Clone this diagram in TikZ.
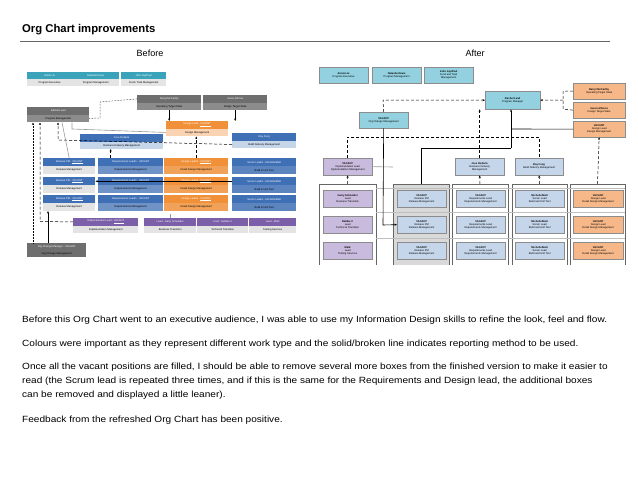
\documentclass[tikz,border=0pt]{standalone}
\usepackage{fontspec}
\setmainfont{Liberation Sans}
\newfontfamily\bodyf[FakeStretch=1.12]{Liberation Sans}
\usetikzlibrary{arrows.meta}
\definecolor{teal}{HTML}{3AA3BA}
\definecolor{lteal}{HTML}{93D1E0}
\definecolor{dgray}{HTML}{6E6E6E}
\definecolor{mgray}{HTML}{8C8C8C}
\definecolor{lgray}{HTML}{E4E4E4}
\definecolor{orng}{HTML}{F0913A}
\definecolor{lorng}{HTML}{FAD3B3}
\definecolor{rorng}{HTML}{F6B889}
\definecolor{blu}{HTML}{3F6FB5}
\definecolor{lblu}{HTML}{C5D5EA}
\definecolor{purp}{HTML}{7B5FA8}
\definecolor{lpurp}{HTML}{C9BBDD}
\tikzset{
 tf/.style={font=\fontsize{2.6}{3}\selectfont},
 hb/.style={tf,anchor=north west,inner sep=0pt,align=center},
 rb/.style={tf,anchor=north west,inner sep=0pt,align=center,draw=black!45,line width=0.3pt},
 frame/.style={draw=black!60,line width=0.4pt},
 dl/.style={densely dashed,line width=0.5pt},
 sl/.style={line width=0.6pt},
 ar/.style={-{Stealth[length=2.5pt,width=2pt]}}
}
% name,x,y,w,h,hcol,bcol,header text,body text
\newcommand\tb[9]{%
 \node[hb,fill=#6,text=white,minimum width=#4pt,minimum height=#5pt] (#1h) at (#2,#3) {#8};
 \node[hb,fill=#7,minimum width=#4pt,minimum height=#5pt] (#1) at (#2,{#3+#5}) {#9};}
% right boxes: name,x,y,w,h,fill,text
\newcommand\rbx[7]{\node[rb,fill=#6,minimum width=#4pt,minimum height=#5pt] (#1) at (#2,#3) {#7};}
\begin{document}
\begin{tikzpicture}[x=1pt,y=-1pt]
\useasboundingbox (0,0) rectangle (638,479);
\fill[white] (0,0) rectangle (638,479);
\node[anchor=base west,inner sep=0,font=\fontsize{11.3}{12}\selectfont\bfseries] (title) at (22,32) {Org Chart improvements};
\draw[black!60,line width=0.6pt] (20,41) -- (610,41);
\node[font=\fontsize{9}{10}\selectfont] (before) at (150,53) {Before};
\node[font=\fontsize{9}{10}\selectfont] (after) at (475,53) {After};
% ---------- BEFORE ----------
\tb{a1}{27}{72}{45}{7}{teal}{lgray}{Annie Liu}{Program Executive}
\tb{a2}{72}{72}{47}{7}{teal}{lgray}{Natasha Davis}{Program Management}
\tb{a3}{121}{72}{45}{7}{teal}{lgray}{John Jay/Paul}{Fund / Task Management}
\tb{dm}{137}{95}{64}{7.5}{dgray}{mgray}{Darryl McCarthy}{Operating Target State}
\tb{ja}{203}{95}{64}{7.5}{dgray}{mgray}{Jason Alfonso}{Design Target State}
\tb{rl}{27}{107}{62}{7.5}{dgray}{mgray}{Rachel Lead}{Program Management}
\tb{dl}{166}{121}{62}{7.5}{orng}{lorng}{Design Lead - \underline{VACANT}}{Design Management}
\tb{jr}{80}{134}{83}{7.5}{blu}{lblu}{Jose Rodarte}{Business Delivery Management}
\tb{rf}{232}{133}{64}{7.5}{blu}{lblu}{Ray Fong}{Build Delivery Management}
\foreach \i/\y in {1/158,2/177,3/195}{
 \tb{rp\i}{43}{\y}{52}{8}{blu}{lgray}{Release PM - \underline{VACANT}}{Release Management}
 \tb{rq\i}{98}{\y}{65}{8}{blu}{blu!75}{Requirements Lead/s - VACANT}{Requirements Management}
 \tb{dd\i}{164}{\y}{64}{8}{orng}{orng!85}{Design Lead/s - \underline{VACANT}}{Detail Design Management}
 \tb{sc\i}{232}{\y}{64}{8}{blu}{blu!85}{Scrum Lead/s - Michelle/Matt}{Build \& Unit Test}
}
\tb{il}{73}{218}{65}{7.5}{purp}{lgray}{Implementation Lead - \underline{VACANT}}{Implementation Management}
\tb{lg}{144}{218}{52}{7.5}{purp}{lgray}{Lead - Garry Schneider}{Business Transition}
\tb{ld}{197}{218}{51}{7.5}{purp}{lgray}{Lead - Debbie C}{Technical Transition}
\tb{lm}{249}{218}{47}{7.5}{purp}{lgray}{Lead - Mark}{Testing Services}
\tb{oc}{27}{243}{59}{7}{dgray}{dgray}{Org Change Manager - VACANT}{Org Change Management}
% before connectors
\draw[densely dotted,line width=0.5pt] (rl.east) -- (100,118) -- (100,102) -- (dmh.west);
\draw[sl,ar] (dm.south) -- (dm.south|-dlh.north);
\draw[sl,ar] (ja.south) -- (ja.south|-dlh.north);
\draw[sl,black!40] (dl.west) -- (72,129) -- (72,122.5);
\draw[dl,ar] (rf.west) -- (58,140) -- (58,122.5);
\draw[sl,black!40] (rp1h.north) -- (62,122.5);
\draw[dl,ar] (dd1h.north) -- (dl.south-|dd1h.north);
\draw[dl,ar] (rq1h.north) ++(-20,0) -- ++(0,-9);
\draw[sl,ar] (sc2h.west) -- (rp2h.east);
\draw[densely dotted,line width=0.5pt,ar] (och.north-|33,0) -- (33,122.5);
\draw[dl,ar] (ilh.west) -- (40,221.5) -- (40,122.5);
\draw[sl,ar] (oc.north-|48,0) ++(0,-7) -- (48,211);
\draw[sl,black!40] (lgh.north) -- ++(0,-4);
% ---------- AFTER ----------
\rbx{b1}{319}{67}{49}{16}{lteal}{\textbf{Annie Liu}\\Program Executive}
\rbx{b2}{372}{67}{49}{16}{lteal}{\textbf{Natasha Davis}\\Program Management}
\rbx{b3}{424}{67}{49}{16}{lteal}{\textbf{John Jay/Paul}\\Fund and Task\\Management}
\rbx{rc}{485}{91}{55}{18}{lteal}{\textbf{Rachel Lead}\\Program Manager}
\rbx{vo}{359}{112}{49}{16}{lteal}{\textbf{VACANT}\\Org Change Management}
\rbx{dc}{573}{83}{52}{16}{rorng}{\textbf{Darryl McCarthy}\\Operating Target State}
\rbx{jx}{573}{102}{52}{16}{rorng}{\textbf{Jason Alfonso}\\Design Target State}
\rbx{vd}{573}{121}{52}{16}{rorng}{\textbf{VACANT}\\Design Lead\\Design Management}
\rbx{vi}{323}{158}{49}{17}{lpurp}{\textbf{VACANT}\\Implementation Lead\\Implementation Management}
\rbx{jo}{455}{158}{49}{17}{lblu}{\textbf{Jose Rodarte}\\Business Delivery\\Management}
\rbx{ry}{515}{158}{48}{17}{lblu}{\textbf{Ray Fong}\\Build Delivery Management}
% frames
\fill[black!15] (393,184) rectangle (449,265);
\foreach \n/\a/\b in {f1/319/376,f2/393/449,f3/452/508,f4/512/567,f5/570/625}{
 \draw[frame] (\a,265) -- (\a,184) -- (\b,184) -- (\b,265);
 \coordinate (\n) at ({(\a+\b)/2},184);
}
\foreach \y in {188,212,238}{\draw[black!25,line width=0.3pt] (376,\y) -- (625,\y);}
\foreach \r/\y in {1/190,2/216,3/242}{
 \rbx{rr\r}{397}{\y}{49}{17}{lblu}{\textbf{VACANT}\\Release PM\\Release Management}
 \rbx{rq\r}{456}{\y}{49}{17}{lblu}{\textbf{VACANT}\\Requirements Lead\\Requirements Management}
 \rbx{ms\r}{515}{\y}{49}{17}{lblu}{\textbf{Michelle/Matt}\\Scrum Lead\\Build and Unit Test}
 \rbx{de\r}{573}{\y}{50}{17}{rorng}{\textbf{VACANT}\\Design Lead\\Detail Design Management}
}
\rbx{p1}{323}{190}{49}{17}{lpurp}{\textbf{Garry Schneider}\\Lead\\Business Transition}
\rbx{p2}{323}{216}{49}{17}{lpurp}{\textbf{Debbie C}\\Lead\\Technical Transition}
\rbx{p3}{323}{242}{49}{17}{lpurp}{\textbf{Mark}\\Lead\\Testing Services}
% after connectors
\draw[dl,ar] (vo.north) -- (383,100) -- (rc.west);
\draw[dl] (dc.west) -- (563,91) -- (563,109) -- (jx.west);
\draw[dl,ar] (563,100) -- (rc.east);
\draw[sl] (vd.west) -- (511,129);
\draw[sl,black!40] (vi.east) -- (393,167);
\draw[sl,ar] (511,148) -- (rc.south-|511,0);
\draw[sl] (421,184) -- (421,148) -- (511,148);
\draw[dl] (347,158) -- (347,137) -- (539,137) -- (539,158);
\draw[dl,ar] (jo.north) -- (rc.south-|jo.north);
\draw[sl,ar] (vo.south) -- (383,225) -- (rr2.west);
\draw[dl,ar] (f1) -- (vi.south);
\draw[dl,ar] (f3) -- (jo.south);
\draw[dl,ar] (f4) -- (ry.south);
\draw[dl,ar] (f5) -- (vd.south);
% ---------- TEXT ----------
\begin{scope}[every node/.style={anchor=base west,inner sep=0,font=\bodyf\fontsize{9}{14}\selectfont,align=left}]
\node (t1) at (22,322) {Before this Org Chart went to an executive audience, I was able to use my Information Design skills to refine the look, feel and flow.};
\node (t2) at (22,346) {Colours were important as they represent different work type and the solid/broken line indicates reporting method to be used.};
\node[anchor=north west] (t3) at (22,363) {Once all the vacant positions are filled, I should be able to remove several more boxes from the finished version to make it easier to\\read (the Scrum lead is repeated three times, and if this is the same for the Requirements and Design lead, the additional boxes\\can be removed and displayed a little leaner).};
\node (t4) at (22,422) {Feedback from the refreshed Org Chart has been positive.};
\end{scope}
\end{tikzpicture}
\end{document}
